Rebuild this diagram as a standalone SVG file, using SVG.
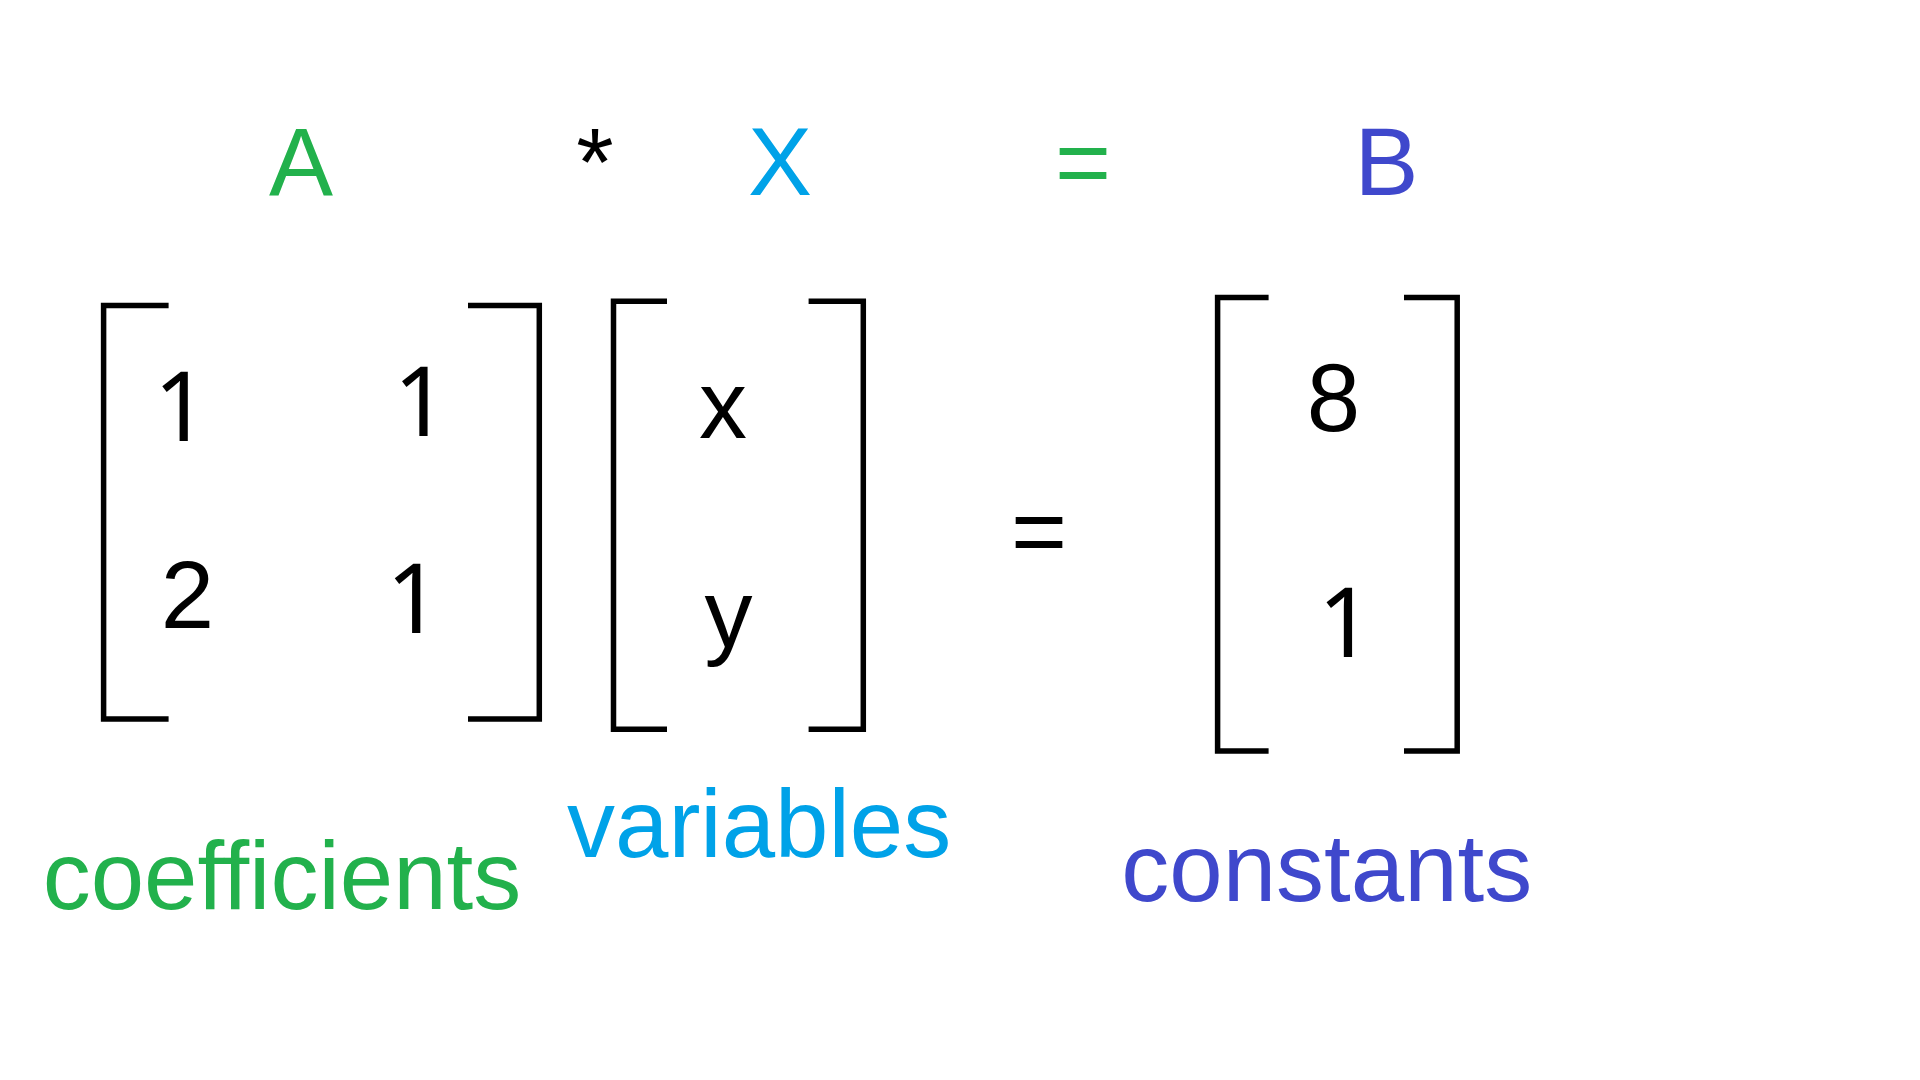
<svg xmlns="http://www.w3.org/2000/svg" width="1920" height="1080" viewBox="0 0 1920 1080">
<style>
text{font-family:"Liberation Sans",Arial,sans-serif;font-size:96px;}
.mid{text-anchor:middle;}
.one{font-family:"Noto Sans","Liberation Sans",Arial,sans-serif;}
.k{fill:#000;}
.g{fill:#22b14c;}
.c{fill:#00a2e8;}
.b{fill:#3f48cc;}
.br{fill:none;stroke:#000;stroke-width:5.5;stroke-linejoin:miter;stroke-linecap:butt;}
</style>
<rect width="1920" height="1080" fill="#fff"/>
<g id="header">
<text class="mid g" x="301" y="195">A</text>
<text class="mid k" x="595" y="195">*</text>
<text class="mid c" x="780" y="195">X</text>
<text class="mid g" x="1083" y="195">=</text>
<text class="mid b" x="1386.5" y="195">B</text>
</g>
<g id="matrix-A">
<path class="br" d="M168.6 305.5 H103.6 V719 H168.6"/>
<path class="br" d="M468 305.5 H539.3 V719 H468"/>
<text class="mid k one" x="181.3" y="441">1</text>
<text class="mid k one" x="421" y="436">1</text>
<text class="mid k" x="187.5" y="627.7">2</text>
<text class="mid k one" x="413.7" y="633.3">1</text>
</g>
<g id="matrix-X">
<path class="br" d="M667 301.3 H613.5 V729.2 H667"/>
<path class="br" d="M808.6 301.3 H863.3 V729.2 H808.6"/>
<text class="mid k" x="723" y="438">x</text>
<text class="mid k" x="728.5" y="646.5">y</text>
</g>
<g id="equals">
<text class="mid k" x="1039" y="564">=</text>
</g>
<g id="matrix-B">
<path class="br" d="M1268.6 297.5 H1217.6 V751 H1268.6"/>
<path class="br" d="M1404 297.5 H1457.2 V751 H1404"/>
<text class="mid k" x="1333.5" y="430.5">8</text>
<text class="mid k one" x="1345.5" y="656.7">1</text>
</g>
<g id="labels">
<text id="label-coefficients" class="g" x="42.7" y="909.3">coefficients</text>
<text id="label-variables" class="c" x="567" y="857.3">variables</text>
<text id="label-constants" class="b" x="1121.3" y="901">constants</text>
</g>
</svg>
